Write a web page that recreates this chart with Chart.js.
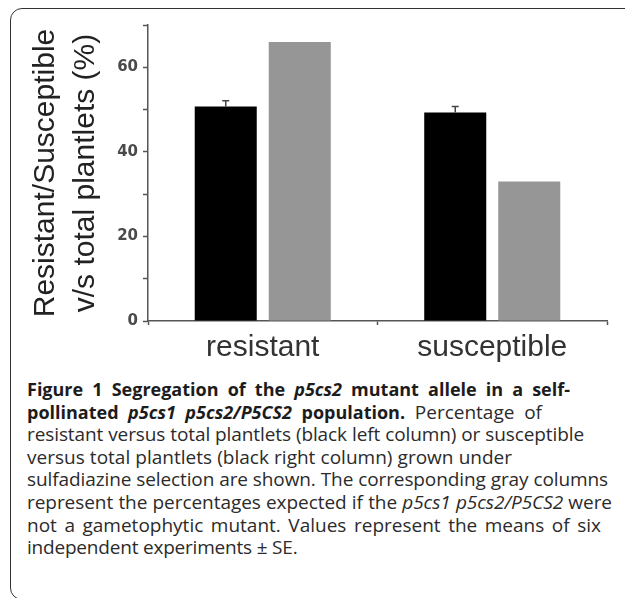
<!DOCTYPE html>
<html>
<head>
<meta charset="utf-8">
<script src="https://cdn.jsdelivr.net/npm/chart.js@4.4.1/dist/chart.umd.min.js"></script>
<style>
  html, body { margin: 0; padding: 0; background: #fff; }
  body { width: 625px; height: 598px; position: relative; overflow: hidden; }
  #frame { position: absolute; left: 10px; top: 8px; width: 680px; height: 592px; border: 1.5px solid #333; border-radius: 12px; box-sizing: border-box; }
  #chart { position: absolute; left: 0; top: 0; }
  #caption { position: absolute; left: 27px; top: 378px; font-family: "Open Sans"; font-size: 19px; line-height: 22.6px; color: #2b2b2b; }
  #caption div { white-space: nowrap; text-align: justify; text-align-last: justify; }
  #caption b { color: #1c1c1c; font-size: 18px; font-stretch: 88%; }
</style>
</head>
<body>
<div id="frame"></div>
<canvas id="chart" width="625" height="372"></canvas>
<div id="caption">
  <div style="width:543px"><b>Figure 1 Segregation of the <i>p5cs2</i> mutant allele in a self-</b></div>
  <div style="width:515px"><b>pollinated <i>p5cs1 p5cs2/P5CS2</i> population.</b> Percentage of</div>
  <div style="width:557px">resistant versus total plantlets (black left column) or susceptible</div>
  <div style="width:485px">versus total plantlets (black right column) grown under</div>
  <div style="width:581px">sulfadiazine selection are shown. The corresponding gray columns</div>
  <div style="width:585px">represent the percentages expected if the <i>p5cs1 p5cs2/P5CS2</i> were</div>
  <div style="width:574px">not a gametophytic mutant. Values represent the means of six</div>
  <div style="width:270px">independent experiments ± SE.</div>
</div>
<script>
// data
let categories = ["resistant", "susceptible"];
let observed = [50.7, 49.3];     // black columns
let observedSE = [1.4, 1.4];
let expected = [66, 33];         // gray columns
let yLabels = [0, 20, 40, 60];
let yTitle = ["Resistant/Susceptible", "v/s total plantlets (%)"];

// squeeze a caption line a little if the font runs wider than the line
document.querySelectorAll("#caption div").forEach(line => {
  let ls = 0;
  while (line.scrollWidth > line.clientWidth + 0.5 && ls > -1.5) {
    ls -= 0.05;
    line.style.letterSpacing = ls + "px";
  }
});

// error bar: only the upper whisker shows above a black column
const errorBars = {
  id: "errorBars",
  afterDatasetsDraw(chart) {
    let ctx = chart.ctx;
    let y = chart.scales.y;
    chart.getDatasetMeta(0).data.forEach((bar, i) => {
      let top = y.getPixelForValue(observed[i] + observedSE[i]);
      let base = y.getPixelForValue(observed[i]);
      ctx.save();
      ctx.strokeStyle = "#444";
      ctx.lineWidth = 1.5;
      ctx.beginPath();
      ctx.moveTo(bar.x, base);
      ctx.lineTo(bar.x, top);
      ctx.moveTo(bar.x - 3.5, top);
      ctx.lineTo(bar.x + 3.5, top);
      ctx.stroke();
      ctx.restore();
    });
  }
};

let myChart = new Chart(document.getElementById("chart").getContext("2d"), {
  type: "bar",
  data: {
    labels: categories,
    datasets: [
      {
        label: "observed",
        data: observed,
        backgroundColor: "#000",
        categoryPercentage: 0.645,
        barPercentage: 0.838
      },
      {
        label: "expected",
        data: expected,
        backgroundColor: "#969696",
        categoryPercentage: 0.645,
        barPercentage: 0.838
      }
    ]
  },
  options: {
    responsive: false,
    animation: false,
    layout: { padding: { top: 25, right: 18, left: 0, bottom: 0 } },
    plugins: {
      legend: { display: false },
      tooltip: { enabled: false }
    },
    scales: {
      x: {
        grid: { drawOnChartArea: false, tickLength: 4, tickColor: "#555", tickWidth: 1.5, offset: true },
        border: { color: "#555", width: 1.5 },
        ticks: { color: "#333", font: { family: "Liberation Sans", size: 30 }, padding: 5 },
        afterFit: s => { s.height = 51; }
      },
      y: {
        min: 0,
        max: 70,
        ticks: {
          stepSize: 10,
          callback: v => (yLabels.includes(v) ? v : ""),
          color: "#4a4a4a",
          font: { family: "DejaVu Sans", size: 15, weight: "bold" },
          padding: 5
        },
        grid: { drawOnChartArea: false, tickLength: 5, tickColor: "#555", tickWidth: 1.5 },
        border: { color: "#555", width: 1.5 },
        title: {
          display: true,
          text: yTitle,
          color: "#222",
          font: { family: "Liberation Sans", size: 30, lineHeight: 1.32 },
          padding: { top: 26, bottom: 0 }
        },
        afterFit: s => { s.width = 148; }
      }
    }
  },
  plugins: [errorBars]
});
</script>
</body>
</html>
